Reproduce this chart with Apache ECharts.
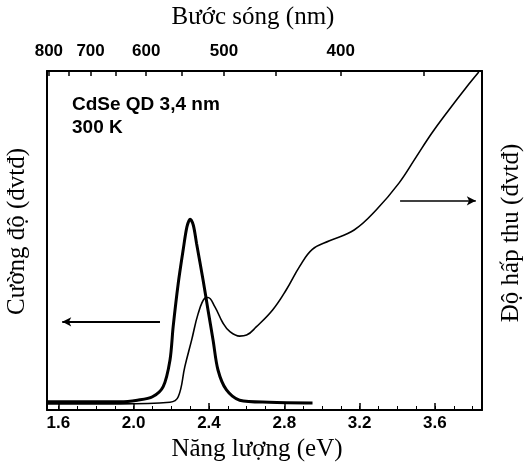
<!DOCTYPE html>
<html>
<head>
<meta charset="utf-8">
<script src="https://cdn.jsdelivr.net/npm/echarts@6/dist/echarts.min.js"></script>
<style>
  html, body { margin: 0; padding: 0; background: #fff; }
  #chart { width: 526px; height: 470px; }
</style>
</head>
<body>
<div id="chart"></div>
<script>
// photoluminescence (thick curve)
const plEnergy = [1.542, 1.93, 2.02, 2.10, 2.157, 2.193, 2.21, 2.237, 2.263, 2.283, 2.30, 2.317, 2.334, 2.369, 2.395, 2.422, 2.448, 2.493, 2.563, 2.72, 2.95]
const plValue = [2.4, 2.4, 2.9, 3.9, 6.9, 14.7, 24.6, 37.4, 47.2, 54.0, 56.3, 54.5, 49.2, 38.3, 29.5, 20.6, 11.8, 5.9, 2.9, 2.3, 2.1]
// absorption (thin curve)
const absEnergy = [1.542, 1.93, 2.193, 2.237, 2.272, 2.308, 2.343, 2.378, 2.395, 2.431, 2.475, 2.51, 2.563, 2.60, 2.651, 2.738, 2.81, 2.881, 2.949, 3.04, 3.171, 3.288, 3.41, 3.50, 3.584, 3.674, 3.764, 3.833]
const absValue = [1.8, 1.8, 2.3, 3.9, 12.8, 20.6, 28.5, 33.0, 33.2, 30.5, 25.6, 23.2, 21.8, 22.1, 24.5, 29.5, 35.4, 42.3, 47.4, 49.9, 53.1, 59.0, 67.0, 74.6, 81.7, 88.5, 95.0, 99.7]
// axes
const energyLabels = [1.6, 2.0, 2.4, 2.8, 3.2, 3.6]
const energyMinor = [1.6, 1.7, 1.8, 1.9, 2.0, 2.1, 2.2, 2.3, 2.4, 2.5, 2.6, 2.7, 2.8, 2.9, 3.0, 3.1, 3.2, 3.3, 3.4, 3.5, 3.6, 3.7, 3.8]
const waveLabels = [800, 700, 600, 500, 400]
const waveTicks = [800, 750, 700, 650, 600, 550, 500, 450, 400, 350]
// arrows [x1, x2, y]
const leftArrow = [2.14, 1.621, 26.0]
const rightArrow = [3.415, 3.817, 61.7]

const HC = 1240
const E_MIN = 1.54
const E_MAX = 3.85

const chart = echarts.init(document.getElementById('chart'))
const sans = 'Liberation Sans'
const serif = 'Liberation Serif'

function pairs (xs, ys) {
  return xs.map((x, i) => [x, ys[i]])
}

const axisLineStyle = { color: '#000', width: 2 }
const tickFont = { color: '#000', fontFamily: sans, fontWeight: 'bold', fontSize: 17 }
const titleFont = { fontFamily: serif, fontSize: 25, color: '#000' }

chart.setOption({
  animation: false,
  backgroundColor: '#fff',
  grid: { left: 47, right: 44, top: 71, bottom: 60, outerBoundsMode: 'none', containLabel: false },
  xAxis: [
    {
      type: 'value',
      position: 'bottom',
      min: E_MIN,
      max: E_MAX,
      axisLine: { show: true, onZero: false, lineStyle: axisLineStyle },
      axisTick: { show: true, inside: true, length: 7, customValues: energyLabels, lineStyle: { color: '#000', width: 1.5 } },
      axisLabel: Object.assign({ customValues: energyLabels, formatter: v => v.toFixed(1), margin: 5 }, tickFont),
      splitLine: { show: false },
      name: 'Năng lượng (eV)',
      nameLocation: 'middle',
      nameGap: 20,
      nameTextStyle: Object.assign({ padding: [0, 15, 0, 0] }, titleFont)
    },
    {
      type: 'value',
      position: 'top',
      min: E_MIN,
      max: E_MAX,
      axisLine: { show: true, onZero: false, lineStyle: axisLineStyle },
      axisTick: { show: true, inside: true, length: 5, customValues: waveTicks.map(w => HC / w), lineStyle: { color: '#000', width: 1.5 } },
      axisLabel: Object.assign({ customValues: waveLabels.map(w => HC / w), formatter: v => String(Math.round(HC / v)), margin: 11 }, tickFont),
      splitLine: { show: false },
      name: 'Bước sóng (nm)',
      nameLocation: 'middle',
      nameGap: 41,
      nameTextStyle: Object.assign({ padding: [0, 23, 0, 0] }, titleFont)
    },
    {
      type: 'value',
      position: 'bottom',
      min: E_MIN,
      max: E_MAX,
      axisLine: { show: false, onZero: false },
      axisTick: { show: true, inside: true, length: 4, customValues: energyMinor, lineStyle: { color: '#000', width: 1 } },
      axisLabel: { show: false },
      splitLine: { show: false }
    }
  ],
  yAxis: [
    {
      type: 'value',
      position: 'left',
      min: 0,
      max: 100,
      axisLine: { show: true, onZero: false, lineStyle: axisLineStyle },
      axisTick: { show: false },
      axisLabel: { show: false },
      splitLine: { show: false },
      name: 'Cường độ (đvtđ)',
      nameLocation: 'middle',
      nameGap: 17,
      nameTextStyle: Object.assign({ padding: [0, 0, 0, 18] }, titleFont)
    },
    {
      type: 'value',
      position: 'right',
      min: 0,
      max: 100,
      axisLine: { show: true, onZero: false, lineStyle: axisLineStyle },
      axisTick: { show: false },
      axisLabel: { show: false },
      splitLine: { show: false },
      name: 'Độ hấp thu (đvtđ)',
      nameLocation: 'middle',
      nameGap: 17,
      nameTextStyle: Object.assign({ padding: [0, 0, 0, 15] }, titleFont)
    }
  ],
  graphic: [
    { type: 'text', x: 72, y: 105, style: { text: 'CdSe QD 3,4 nm', fontFamily: sans, fontWeight: 'bold', fontSize: 19, fill: '#000', verticalAlign: 'middle' } },
    { type: 'text', x: 72, y: 128, style: { text: '300 K', fontFamily: sans, fontWeight: 'bold', fontSize: 19, fill: '#000', verticalAlign: 'middle' } }
  ],
  series: [
    {
      name: 'PL',
      type: 'line',
      xAxisIndex: 0,
      yAxisIndex: 0,
      data: pairs(plEnergy, plValue),
      smooth: 0.3,
      showSymbol: false,
      lineStyle: { color: '#000', width: 3 },
      markLine: {
        silent: true,
        symbol: ['none', 'arrow'],
        symbolSize: [7, 9],
        label: { show: false },
        lineStyle: { color: '#000', width: 2, type: 'solid' },
        data: [[{ coord: [leftArrow[0], leftArrow[2]] }, { coord: [leftArrow[1], leftArrow[2]] }]]
      }
    },
    {
      name: 'Abs',
      type: 'line',
      xAxisIndex: 0,
      yAxisIndex: 1,
      data: pairs(absEnergy, absValue),
      smooth: 0.4,
      showSymbol: false,
      lineStyle: { color: '#000', width: 1.6 },
      markLine: {
        silent: true,
        symbol: ['none', 'arrow'],
        symbolSize: [7, 9],
        label: { show: false },
        lineStyle: { color: '#000', width: 1.6, type: 'solid' },
        data: [[{ coord: [rightArrow[0], rightArrow[2]] }, { coord: [rightArrow[1], rightArrow[2]] }]]
      }
    }
  ]
})
</script>
</body>
</html>
